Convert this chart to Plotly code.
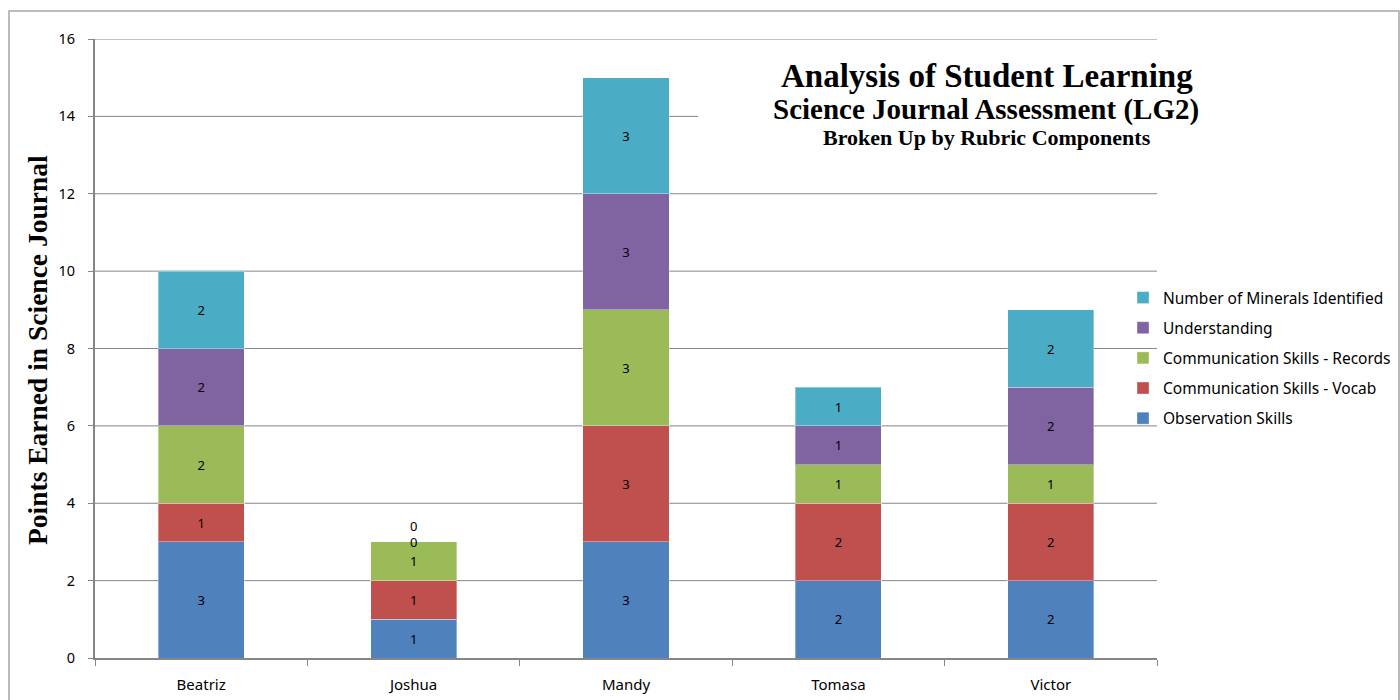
import plotly.graph_objects as go

# Students and rubric component scores (stacked bottom to top)
students = ["Beatriz", "Joshua", "Mandy", "Tomasa", "Victor"]
observation = [3, 1, 3, 2, 2]
vocab = [1, 1, 3, 2, 2]
records = [2, 1, 3, 1, 1]
understanding = [2, 0, 3, 1, 2]
minerals = [2, 0, 3, 1, 2]
y_ticks = [0, 2, 4, 6, 8, 10, 12, 14, 16]

series = [
    ("Observation Skills", observation, "#4F81BD"),
    ("Communication Skills - Vocab", vocab, "#C0504D"),
    ("Communication Skills - Records", records, "#9BBB59"),
    ("Understanding", understanding, "#8064A2"),
    ("Number of Minerals Identified", minerals, "#4BACC6"),
]

# pixel geometry of the plot area inside the 1400x700 page
W, H = 1400, 700
L, R, T, B = 95, 1157, 39, 658


def px_x(x):
    return (x - L) / (R - L)


def px_y(y):
    return (B - y) / (B - T)


fig = go.Figure()
sans = "Noto Sans, Open Sans, sans-serif"
label_font = dict(family=sans, size=13, color="#000000")

n = len(series)
for k, (name, vals, color) in enumerate(series):
    fig.add_trace(go.Bar(
        name=name, x=students, y=vals, legendgroup=name, legendrank=n - k,
        marker=dict(color=color, line=dict(color="rgba(255,255,255,0.35)", width=1)),
        text=[str(v) for v in vals], textposition="inside",
        insidetextanchor="middle", textangle=0,
        textfont=label_font, width=0.405,
    ))

# labels for zero-height segments, stacked upward from the bar top
annotations = []
for i, s in enumerate(students):
    total = sum(vals[i] for _, vals, _ in series)
    shift = 0
    for _, vals, _ in series:
        if vals[i] == 0:
            annotations.append(dict(
                x=s, y=total, xref="x", yref="y", text="0", showarrow=False,
                xanchor="center", yanchor="middle",
                font=label_font, yshift=shift,
            ))
            shift += 16

title_font = "Liberation Serif, Times New Roman, serif"
annotations += [
    dict(x=px_x(987), y=px_y(76), xref="paper", yref="paper", showarrow=False,
         xanchor="center", yanchor="middle",
         text="<b>Analysis of Student Learning</b>",
         font=dict(family=title_font, size=33, color="#000000")),
    dict(x=px_x(986), y=px_y(110), xref="paper", yref="paper", showarrow=False,
         xanchor="center", yanchor="middle",
         text="<b>Science Journal Assessment (LG2)</b>",
         font=dict(family=title_font, size=29, color="#000000")),
    dict(x=px_x(987), y=px_y(137), xref="paper", yref="paper", showarrow=False,
         xanchor="center", yanchor="middle",
         text="<b>Broken Up by Rubric Components</b>",
         font=dict(family=title_font, size=22, color="#000000")),
    dict(x=px_x(37), y=px_y(350), xref="paper", yref="paper", showarrow=False,
         xanchor="center", yanchor="middle",
         text="<b>Points Earned in Science Journal</b>", textangle=-90,
         font=dict(family=title_font, size=27.5, color="#000000")),
]

# horizontal gridlines, followed by a white panel that masks them behind the title
shapes = []
for v in y_ticks[1:]:
    shapes.append(dict(type="line", xref="paper", yref="y", layer="below",
                       x0=0, x1=1, y0=v, y1=v,
                       line=dict(color="#868686", width=1)))
shapes.append(dict(type="rect", xref="paper", yref="paper", layer="below",
                   x0=px_x(698), x1=px_x(1162), y0=px_y(160), y1=px_y(45),
                   fillcolor="#FFFFFF", line=dict(width=0)))
# outer chart border
shapes.append(dict(type="rect", xref="paper", yref="paper", layer="below",
                   x0=px_x(9), x1=px_x(1399), y0=px_y(720), y1=px_y(11),
                   fillcolor="rgba(0,0,0,0)", line=dict(color="#A6A6A6", width=1.5)))

fig.update_layout(
    width=W, height=H,
    margin=dict(l=L, r=W - R, t=T, b=H - B, autoexpand=False),
    paper_bgcolor="#FFFFFF", plot_bgcolor="rgba(0,0,0,0)",
    barmode="stack", bargap=0.595,
    showlegend=True,
    legend=dict(
        xref="container", yref="container",
        x=1123 / W, y=1 - 281 / H, xanchor="left", yanchor="top",
        traceorder="grouped", tracegroupgap=7,
        bgcolor="rgba(0,0,0,0)", itemclick=False,
        font=dict(family=sans, size=15.5, color="#000000"),
        itemwidth=30,
    ),
    xaxis=dict(
        showgrid=False, showline=True, linecolor="#868686", linewidth=2,
        ticks="outside", tickson="boundaries", ticklen=6, tickcolor="#868686",
        tickfont=dict(family=sans, size=15, color="#000000"),
        ticklabelstandoff=12, automargin=False,
    ),
    yaxis=dict(
        range=[0, 16], tickvals=y_ticks, showgrid=False,
        showline=True, linecolor="#868686", linewidth=2,
        ticks="outside", ticklen=5, tickcolor="#868686",
        tickfont=dict(family=sans, size=14.5, color="#000000"),
        ticklabelstandoff=10, zeroline=False, automargin=False,
    ),
    annotations=annotations,
    shapes=shapes,
)

fig.write_html("out.html")
